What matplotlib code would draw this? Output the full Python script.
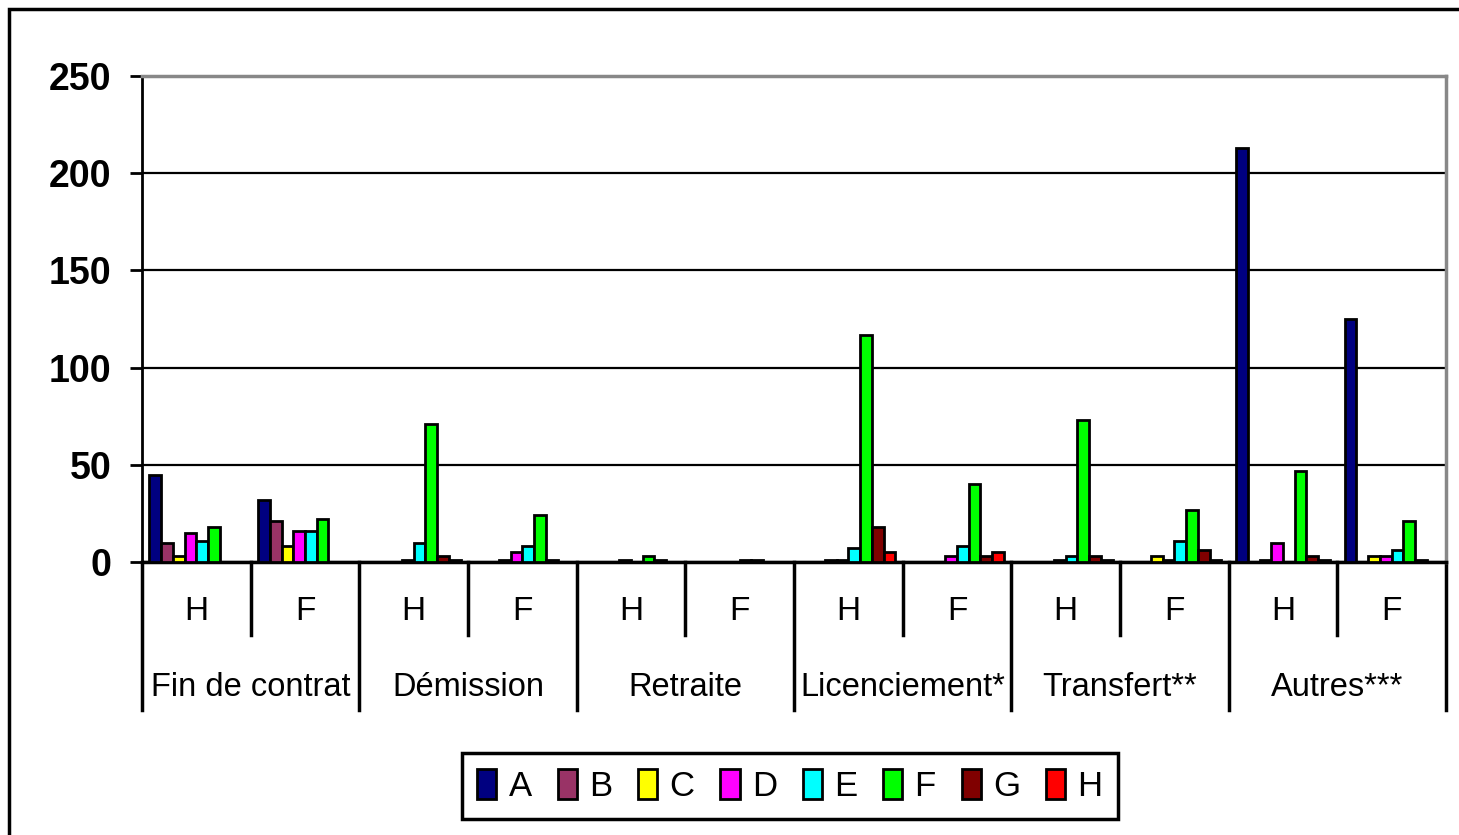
import matplotlib.pyplot as plt
import numpy as np
from matplotlib.patches import Rectangle

plt.rcParams['font.family'] = ['Liberation Sans', 'DejaVu Sans']

# --- data
motifs = ['Fin de contrat', 'Démission', 'Retraite', 'Licenciement*', 'Transfert**', 'Autres***']
sexes = ['H', 'F']
series = ['A', 'B', 'C', 'D', 'E', 'F', 'G', 'H']
colors = ['#000080', '#993366', '#FFFF00', '#FF00FF', '#00FFFF', '#00FF00', '#800000', '#FF0000']

# one list per series, 12 values: (motif, H/F) in order
A = [45, 32, 0, 0, 0, 0, 0, 0, 0, 0, 213, 125]
B = [10, 21, 0, 0, 0, 0, 0, 0, 0, 0, 0, 0]
C = [3, 8, 0, 1, 0, 0, 1, 0, 0, 3, 1, 3]
D = [15, 16, 1, 5, 1, 0, 1, 3, 1, 1, 10, 3]
E = [11, 16, 10, 8, 0, 1, 7, 8, 3, 11, 0, 6]
F = [18, 22, 71, 24, 3, 1, 117, 40, 73, 27, 47, 21]
G = [0, 0, 3, 1, 1, 0, 18, 3, 3, 6, 3, 1]
H = [0, 0, 1, 0, 0, 0, 5, 5, 1, 1, 1, 0]
values = [A, B, C, D, E, F, G, H]

W, Hpx = 1459, 835
fig = plt.figure(figsize=(W / 100, Hpx / 100), dpi=100)
ax = fig.add_axes([142 / W, 1 - 562 / Hpx, (1446 - 142) / W, (562 - 76) / Hpx])

# outer frame of the chart area
fig.patches.append(Rectangle((9 / W, -0.1), 1.2, 1 - 9 / Hpx + 0.1, transform=fig.transFigure,
                             fill=False, edgecolor='black', linewidth=2.5))

n = len(motifs) * len(sexes)
x = np.arange(n) + 0.5
bw = 0.108
for i, (name, vals) in enumerate(zip(series, values)):
    ax.bar(x + (i - 3.5) * bw, vals, width=bw, color=colors[i], edgecolor='black',
           linewidth=2, label=name, zorder=3)

ax.set_xlim(0, n)
ax.set_ylim(0, 250)
ax.set_yticks([0, 50, 100, 150, 200, 250])
ax.yaxis.grid(True, color='black', linewidth=1.6, zorder=0)
ax.set_xticks([])
ax.tick_params(axis='y', length=9, width=2, labelsize=27, pad=13)
for lab in ax.get_yticklabels():
    lab.set_fontweight('bold')
ax.spines['left'].set_linewidth(2)
ax.spines['bottom'].set_linewidth(2.5)
ax.spines['top'].set_color('#888888')
ax.spines['top'].set_linewidth(2.5)
ax.spines['right'].set_color('#888888')
ax.spines['right'].set_linewidth(2.5)

# two-level category axis
ah = 562 - 76
for k in range(n + 1):
    bottom = -(710 - 562) / ah if k % 2 == 0 else -(635 - 562) / ah
    ax.plot([k, k], [0, bottom], transform=ax.get_xaxis_transform(), color='black',
            linewidth=2.5, clip_on=False)
for k in range(n):
    ax.text(k + 0.5, -(612 - 562) / ah, sexes[k % 2], transform=ax.get_xaxis_transform(),
            ha='center', va='center', fontsize=24)
for m, name in enumerate(motifs):
    ax.text(2 * m + 1, -(688 - 562) / ah, name, transform=ax.get_xaxis_transform(),
            ha='center', va='center', fontsize=23.5)

leg = fig.legend(loc='center', bbox_to_anchor=(790 / W, 1 - 786 / Hpx), ncol=8,
                 fontsize=25, frameon=True, fancybox=False, edgecolor='black', framealpha=1,
                 handlelength=0.55, handleheight=0.95, handletextpad=0.35,
                 columnspacing=0.75, borderpad=0.45)
leg.get_frame().set_linewidth(2.5)

fig.savefig('out.png', dpi=100)
